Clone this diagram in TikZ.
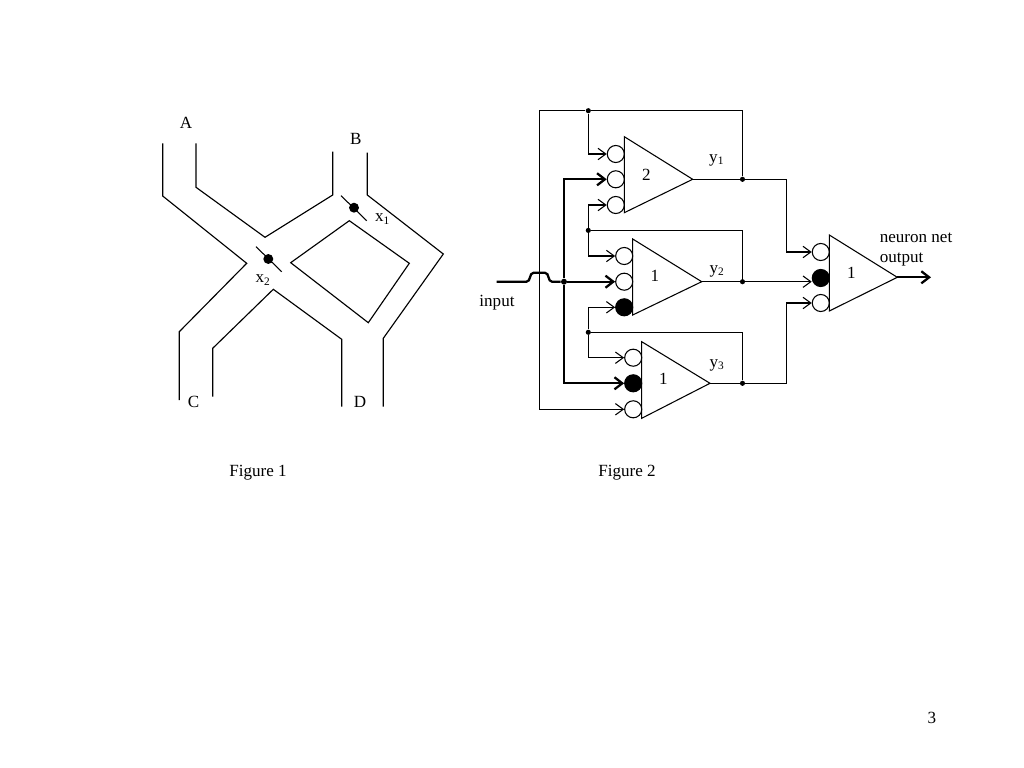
\documentclass[tikz,border=0pt]{standalone}
\usepackage{fontspec}
\setmainfont{Liberation Serif}
\usetikzlibrary{arrows.meta}
\begin{document}
\begin{tikzpicture}[x=0.703125pt,y=-0.703125pt,
  wire/.style={line width=0.75pt},
  bold/.style={line width=1.6pt},
  arr/.style={wire,-{Straight Barb[length=5.5pt,width=8pt]}},
  barr/.style={bold,-{Straight Barb[length=5.5pt,width=8.5pt]}},
  syn/.style={circle,draw,line width=0.75pt,minimum size=12pt,inner sep=0pt},
  inh/.style={syn,fill=black},
  jdot/.style={circle,fill=black,inner sep=0pt,minimum size=3.6pt},
  sdot/.style={circle,fill=black,inner sep=0pt,minimum size=7pt},
  lbl/.style={font=\fontsize{12}{14}\selectfont,inner sep=0pt},
  body/.style={line width=0.75pt,line join=miter},
  road/.style={line width=0.8pt,line join=miter}
]
\useasboundingbox (0,0) rectangle (1024,768);
\fill[white] (0,0) rectangle (1024,768);

% ---------------- Figure 1 ----------------
\draw[road] (162.7,143.3) -- (162.7,196) -- (246.7,263.3) -- (179.3,331.7) -- (179.3,400);
\draw[road] (196,143.3) -- (196,187.3) -- (265,237.3) -- (332.7,195) -- (332.7,151.7);
\draw[road] (367.3,152.7) -- (367.3,195) -- (443.3,254) -- (383.3,338.3) -- (383.3,406.7);
\draw[road] (349.3,220.7) -- (409.3,263.3) -- (368.3,322.7) -- (290.7,262.7) -- cycle;
\draw[road] (212.7,396.7) -- (212.7,348.3) -- (273.3,289.3) -- (341.7,339.3) -- (341.7,406.7);

\draw[wire] (341,195.7) -- (366.7,220.7);
\node[sdot] (s1) at (354,207.7) {};
\draw[wire] (256,246.7) -- (281.7,271.7);
\node[sdot] (s2) at (268.3,259) {};

\node[lbl] (lA) at (186,122.5) {A};
\node[lbl] (lB) at (355.8,138.7) {B};
\node[lbl] (lC) at (193.5,401.5) {C};
\node[lbl] (lD) at (360,401.5) {D};
\node[lbl] (lx1) at (382.5,219) {x\textsubscript{1}};
\node[lbl] (lx2) at (263,280) {x\textsubscript{2}};

% ---------------- Figure 2 ----------------
% neuron A (threshold 2)
\coordinate (aT) at (624.3,136.7);
\coordinate (aB) at (624.3,212.7);
\coordinate (aO) at (692.7,179.3);
\draw[body] (aT) -- (aO) -- (aB) -- cycle;
\node[syn] (a1) at (615.8,154) {};
\node[syn] (a2) at (615.8,179.3) {};
\node[syn] (a3) at (615.8,205) {};
\node[lbl] (na) at (646.5,174.5) {2};

% neuron B
\coordinate (bT) at (632.7,239);
\coordinate (bB) at (632.7,315);
\coordinate (bO) at (701.7,281.7);
\draw[body] (bT) -- (bO) -- (bB) -- cycle;
\node[syn] (b1) at (624.2,256) {};
\node[syn] (b2) at (624.2,281.7) {};
\node[inh] (b3) at (624.2,307.3) {};
\node[lbl] (nb) at (655,276.3) {1};

% neuron C
\coordinate (cT) at (641.7,341.7);
\coordinate (cB) at (641.7,418.3);
\coordinate (cO) at (710,383.3);
\draw[body] (cT) -- (cO) -- (cB) -- cycle;
\node[syn] (c1) at (633.2,357.7) {};
\node[inh] (c2) at (633.2,383.3) {};
\node[syn] (c3) at (633.2,409.3) {};
\node[lbl] (nc) at (663.3,378.8) {1};

% output neuron
\coordinate (oT) at (829.3,235);
\coordinate (oB) at (829.3,311);
\coordinate (oO) at (897.3,277.3);
\draw[body] (oT) -- (oO) -- (oB) -- cycle;
\node[syn] (o1) at (820.8,252) {};
\node[inh] (o2) at (820.8,278) {};
\node[syn] (o3) at (820.8,303) {};
\node[lbl] (no) at (851.3,272.5) {1};

% output junctions
\node[jdot] (y1d) at (742.5,179.3) {};
\node[jdot] (y2d) at (742.5,281.7) {};
\node[jdot] (y3d) at (742.5,383.3) {};
\draw[wire] (aO) -- (y1d);
\draw[wire] (bO) -- (y2d);
\draw[wire] (cO) -- (y3d);

% feedback loops
\coordinate (tr) at (742.5,110.7);
\coordinate (tl) at (539.3,110.7);
\node[jdot] (dt) at (588.3,110.7) {};
\draw[wire] (y1d) -- (tr) -- (dt) -- (tl);
\draw[arr] (tl) |- (c3);
\draw[arr] (dt) |- (a1);

\coordinate (r2) at (742.5,230.4);
\node[jdot] (d2) at (588.3,230.4) {};
\draw[wire] (y2d) -- (r2) -- (d2);
\draw[arr] (d2) |- (a3);
\draw[arr] (d2) |- (b1);

\coordinate (r3) at (742.5,332.3);
\node[jdot] (d3) at (588.3,332.3) {};
\draw[wire] (y3d) -- (r3) -- (d3);
\draw[arr] (d3) |- (b3);
\draw[arr] (d3) |- (c1);

% to output neuron
\coordinate (j1) at (786.7,179.3);
\coordinate (j3) at (786.7,383.3);
\draw[arr] (y1d) -- (j1) |- (o1);
\draw[arr] (y2d) -- (y2d -| o2.west);
\draw[arr] (y3d) -- (j3) |- (o3);
\coordinate (oE) at (931,277.3);
\draw[barr] (oO) -- (oE);

% input
\coordinate (inS) at (496.7,281.7);
\node[jdot,minimum size=4.2pt] (di) at (564,281.7) {};
\draw[bold] (inS) -- (526.5,281.7) .. controls (531,281.7) and (529,272.8) .. (533.5,272.8)
  -- (545,272.8) .. controls (549.5,272.8) and (547.5,281.7) .. (552,281.7) -- (di);
\draw[barr] (di) -- (b2);
\draw[barr] (di) |- (a2);
\draw[barr] (di) |- (c2);

% labels
\node[lbl] (ly1) at (716.7,160) {y\textsubscript{1}};
\node[lbl] (ly2) at (717,271) {y\textsubscript{2}};
\node[lbl] (ly3) at (717,365) {y\textsubscript{3}};
\node[lbl] (lin) at (497,302.5) {input};
\node[lbl,align=left,anchor=west,font=\fontsize{12}{14}\selectfont] (lout) at (879.5,249.5) {neuron net\\output};

% captions
\node[lbl] (f1) at (258,473) {Figure 1};
\node[lbl] (f2) at (627,473) {Figure 2};
\node[lbl] (pg) at (932,718) {3};
\end{tikzpicture}
\end{document}
